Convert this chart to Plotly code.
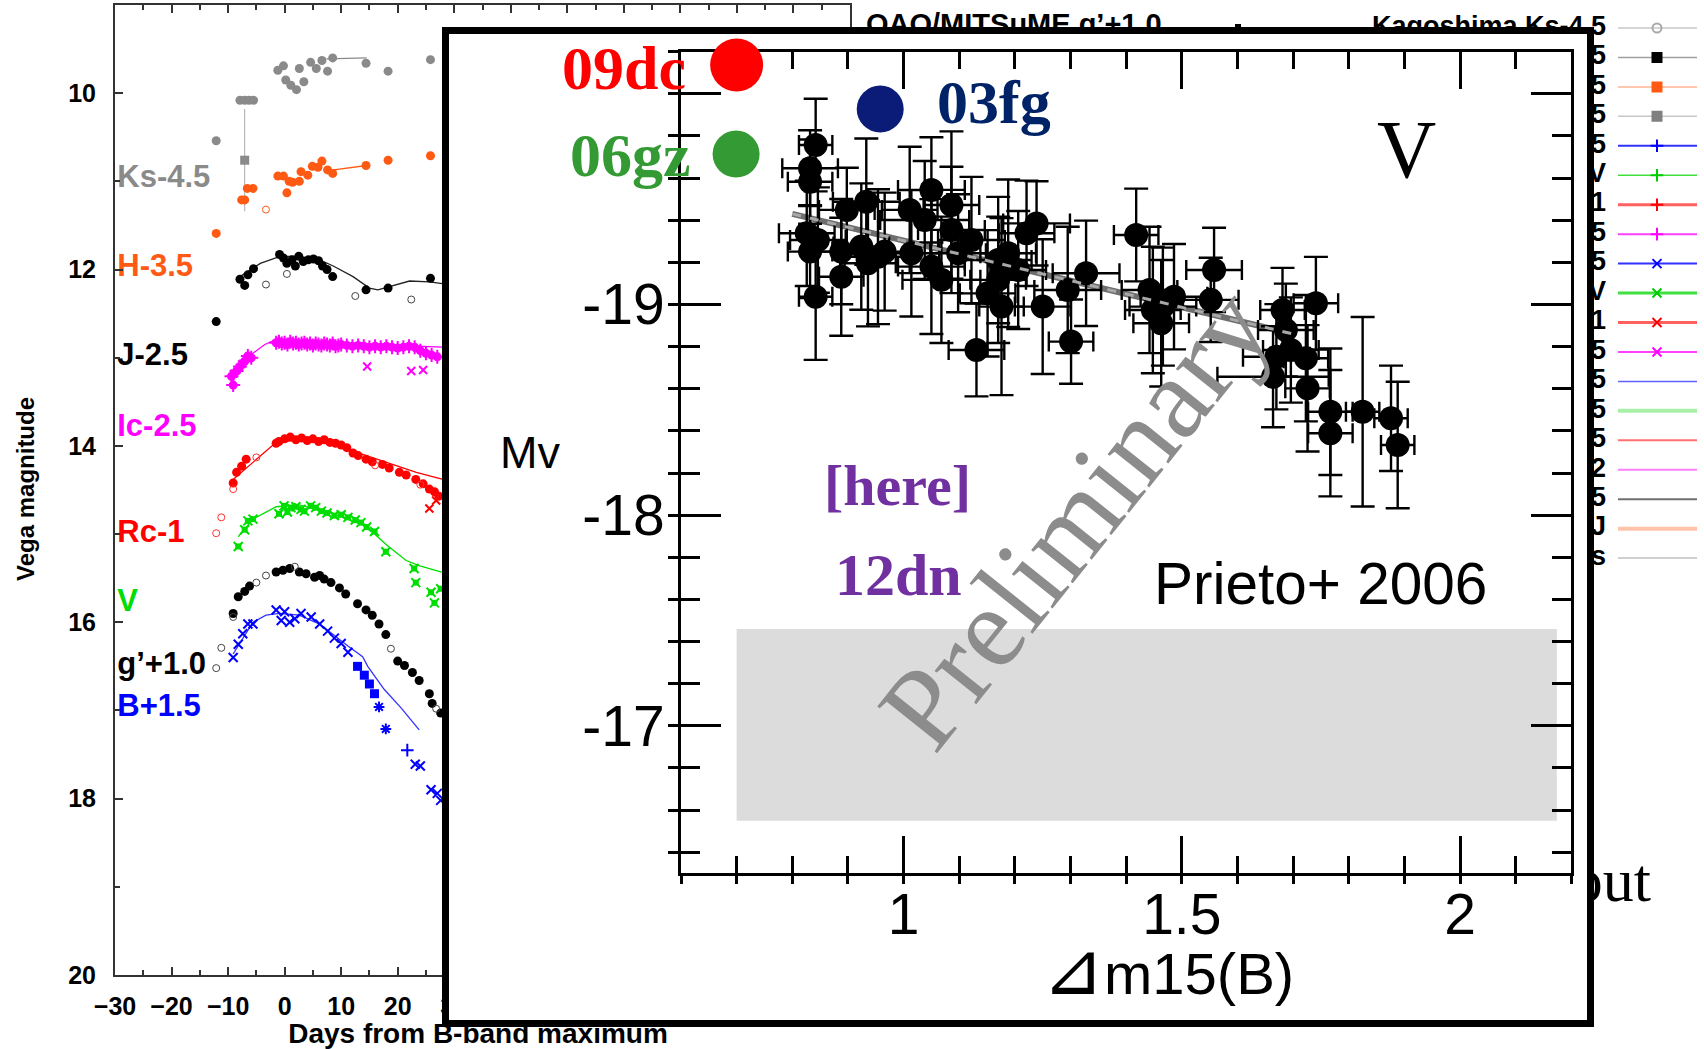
import plotly.graph_objects as go

W, H = 1704, 1049
SANS = "Liberation Sans"
SERIF = "Liberation Serif"

# ---------------- Background light curves (days from B max, Vega mag) ----------------
ks_day = [-12.1, -7.9, -7.06, -6.3, -5.5, -1.2, -0.2, 0.2, 1.1, 2.1, 3.4, 2.6, 4.6, 5.6, 6.6, 7.6, 8.5, 14.4, 18.3, 25.8]
ks_mag = [10.54, 10.08, 10.08, 10.08, 10.08, 9.74, 9.69, 9.85, 9.91, 9.96, 9.87, 9.72, 9.65, 9.72, 9.63, 9.75, 9.60, 9.66, 9.75, 9.62]
ks_sq_day = [-7.06]
ks_sq_mag = [10.76]
ks_line_day = [7.4, 14.5]
ks_line_mag = [9.61, 9.60]

h_day = [-12.1, -7.6, -7.06, -6.6, -5.6, -1.2, -0.2, 0.8, 0.4, 1.4, 2.6, 2.9, 4.1, 4.9, 5.9, 6.6, 7.6, 8.5, 14.4, 18.3, 25.8]
h_mag = [11.59, 11.21, 11.21, 11.08, 11.08, 10.94, 10.94, 11.0, 11.13, 11.01, 11.0, 10.89, 10.93, 10.83, 10.84, 10.77, 10.87, 10.91, 10.82, 10.76, 10.71]
h_open_day = [-3.3]
h_open_mag = [11.32]
h_line_day = [7.4, 14.5]
h_line_mag = [10.88, 10.82]

j_day = [-12.1, -7.9, -7.06, -6.5, -5.5, -0.9, -0.2, 0.4, 1.3, 1.9, 2.5, 3.3, 4.2, 5.1, 6.0, 6.7, 7.5, 8.5, 14.4, 18.3, 25.8]
j_mag = [12.59, 12.11, 12.18, 12.06, 11.99, 11.83, 11.87, 11.93, 11.89, 11.96, 11.85, 11.91, 11.89, 11.88, 11.90, 11.96, 12.0, 12.08, 12.23, 12.21, 12.10]
j_open_day = [-3.3, 0.4, 12.5, 22.4]
j_open_mag = [12.17, 12.05, 12.30, 12.34]
j_line_day = [-7.9, -4.3, -0.8, 2.7, 6.2, 8.6, 12.1, 15.0, 16.5, 19.7, 22.1, 25.6, 27.9]
j_line_mag = [12.08, 11.93, 11.85, 11.85, 11.89, 11.96, 12.08, 12.21, 12.23, 12.17, 12.13, 12.14, 12.16]

ic_day = [-9.1, -9.4, -8.5, -7.9, -7.06, -6.5, -5.9, -1.5, -1.0, -0.5, 0.0, 0.5, 1.0, 1.5, 2.0, 2.5,
          3.0, 3.5, 4.0, 4.5, 5.0, 5.5, 6.0, 6.5, 7.0, 7.5, 8.0, 8.5, 9.0, 9.5, 10.0, 11.0, 12.0, 13.0,
          14.0, 15.0, 16.0, 17.0, 18.0, 19.0, 20.0, 21.0, 22.0, 23.0, 24.0, 25.0, 26.0, 27.0]
ic_mag = [13.31, 13.21, 13.15, 13.10, 13.04, 12.98, 13.0, 12.83, 12.82, 12.84, 12.83, 12.85, 12.82, 12.84,
          12.83, 12.85, 12.84, 12.83, 12.85, 12.84, 12.86, 12.84, 12.85, 12.86, 12.84, 12.85, 12.86, 12.84,
          12.87, 12.86, 12.85, 12.86, 12.87, 12.86, 12.87, 12.88, 12.87, 12.88, 12.87, 12.88, 12.89, 12.88,
          12.87, 12.88, 12.92, 12.95, 12.97, 12.99]
ic_x_day = [14.6, 22.4, 24.5]
ic_x_mag = [13.10, 13.15, 13.14]
ic_line_day = [-9.4, -7.5, -5.6, -3.5, -1.8, 5.0, 15.0, 25.0, 28.0]
ic_line_mag = [13.22, 13.05, 12.95, 12.85, 12.80, 12.83, 12.85, 12.87, 12.88]

rc_day = [-9.1, -8.5, -7.6, -6.8, -1.5, -1.0, 0.0, 1.0, 2.0, 3.0, 4.0, 5.0, 6.0, 7.0, 8.0, 9.0, 10.0, 11.0,
          12.1, 13.0, 14.4, 15.5, 17.3, 18.5, 20.3, 21.5, 23.2, 24.5, 25.6, 26.5, 27.3]
rc_mag = [14.42, 14.30, 14.23, 14.15, 13.97, 13.95, 13.92, 13.90, 13.93, 13.91, 13.94, 13.92, 13.95, 13.93,
          13.96, 13.97, 13.99, 14.02, 14.08, 14.11, 14.15, 14.18, 14.21, 14.25, 14.30, 14.33, 14.38, 14.43,
          14.49, 14.52, 14.57]
rc_open_day = [-12.1, -11.2, -9.1, -5.0, 16.0, 24.0]
rc_open_mag = [14.99, 14.81, 14.49, 14.13, 14.22, 14.44]
rc_x_day = [25.6, 26.8]
rc_x_mag = [14.71, 14.62]
rc_line_day = [-9.1, -5.6, -1.5, 2.6, 8.6, 12.1, 17.4, 23.3, 28.0]
rc_line_mag = [14.38, 14.19, 13.96, 13.93, 13.96, 14.06, 14.17, 14.30, 14.38]

v_day = [-8.2, -7.06, -6.5, -5.6, -1.0, -0.1, 0.5, 1.1, 2.0, 2.9, 3.5, 4.6, 5.5, 6.5, 7.5, 8.8, 10.0,
         11.2, 12.5, 13.5, 14.5, 15.9, 17.9, 22.9, 23.2, 25.9, 26.5, 27.6]
v_mag = [15.14, 14.95, 14.85, 14.83, 14.77, 14.68, 14.75, 14.70, 14.69, 14.72, 14.74, 14.68, 14.70, 14.74,
         14.76, 14.79, 14.78, 14.81, 14.84, 14.87, 14.92, 14.97, 15.20, 15.39, 15.55, 15.66, 15.78, 15.62]
v_line_day = [-8.2, -5.6, -1.5, 2.6, 8.6, 14.4, 18.0, 21.5, 23.9, 27.8]
v_line_mag = [15.03, 14.83, 14.69, 14.67, 14.77, 14.91, 15.12, 15.30, 15.36, 15.43]

g_day = [-9.1, -8.2, -7.06, -6.2, -1.5, -0.3, 0.9, 2.6, 3.8, 5.3, 6.2, 7.0, 8.2, 9.7, 10.8, 12.9, 14.4,
         15.5, 16.7, 17.9, 20.0, 21.2, 22.6, 23.8, 25.6, 26.1, 27.6]
g_mag = [15.90, 15.71, 15.65, 15.59, 15.43, 15.41, 15.39, 15.43, 15.45, 15.49, 15.47, 15.51, 15.55, 15.61,
         15.68, 15.79, 15.86, 15.92, 16.02, 16.14, 16.44, 16.49, 16.57, 16.66, 16.81, 16.92, 17.03]
g_open_day = [-12.1, -11.2, -9.1, -5.0, -3.3, 1.8, 18.8, 26.8]
g_open_mag = [16.52, 16.29, 15.94, 15.55, 15.47, 15.37, 16.30, 16.98]

b_x_day = [-9.1, -8.2, -7.4, -6.5, -5.6, -1.5, -0.6, 0.0, 0.9, 1.8, 2.9, 4.7, 6.2, 7.6, 8.8, 10.0, 11.2,
           23.1, 24.0, 25.9, 27.0, 27.6]
b_x_mag = [16.40, 16.25, 16.13, 16.02, 16.02, 15.86, 15.98, 15.88, 16.00, 15.96, 15.90, 15.94, 16.02, 16.10,
           16.18, 16.24, 16.34, 17.61, 17.63, 17.90, 17.94, 18.02]
b_sq_day = [12.9, 14.1, 15.0, 15.9]
b_sq_mag = [16.50, 16.60, 16.70, 16.81]
b_ast_day = [16.7, 17.9]
b_ast_mag = [16.96, 17.21]
b_plus_day = [21.7]
b_plus_mag = [17.45]
b_line_day = [-9.1, -5.6, -3.3, -0.9, 2.6, 6.2, 11.2, 13.8, 14.7, 17.6, 20.6, 23.8]
b_line_mag = [16.36, 16.00, 15.92, 15.90, 15.92, 16.02, 16.27, 16.39, 16.50, 16.76, 16.97, 17.22]

band_labels = ["Ks-4.5", "H-3.5", "J-2.5", "Ic-2.5", "Rc-1", "V", "g\u2019+1.0", "B+1.5"]
band_colors = ["#8a8a8a", "#ff5a14", "#000000", "#ff00ff", "#ff0000", "#00dd00", "#000000", "#0000ff"]
band_label_mag = [10.98, 11.99, 12.99, 13.80, 15.00, 15.78, 16.50, 16.98]

lc_xticks = [-30, -20, -10, 0, 10, 20, 30, 40, 50, 60, 70, 80, 90, 100]
lc_yticks = [10, 12, 14, 16, 18, 20]

# right-hand legend column of the light-curve figure
leg_labels = ["Kagoshima Ks-4.5", "OAO J-2.5", "OAO H-3.5", "OAO Ks-4.5",
              "Kanata B+1.5", "Kanata V", "Kanata Rc-1", "Kanata Ic-2.5",
              "Nayuta B+1.5", "Nayuta V", "Nayuta Rc-1", "Nayuta Ic-2.5",
              "model B+1.5", "model g'+1.5", "model V+0.5", "model Rc-2", "model Ic-2.5",
              "model J", "models"]
leg_line_colors = ["#c8c8c8", "#a0a0a0", "#ffb494", "#c8c8c8", "#3030ff", "#40e040", "#ff6060", "#ff40ff",
                   "#3030ff", "#40e040", "#ff6060", "#ff40ff", "#6060ff", "#a8f0a8", "#ff7070", "#ff80ff",
                   "#707070", "#ffc4a8", "#c0c0c0"]
leg_line_widths = [1.5, 1.5, 1.5, 1.5, 2, 1.5, 3, 2, 2, 3, 3, 2, 1.5, 4, 2, 2, 2, 4, 1.5]
leg_symbols = ["circle-open", "square", "square", "square", "cross-thin", "cross-thin", "cross-thin",
               "cross-thin", "x-thin", "x-thin", "x-thin", "x-thin", None, None, None, None, None, None, None]
leg_marker_colors = ["#aaaaaa", "#000000", "#ff5a14", "#808080", "#0000ff", "#00cc00", "#ff0000", "#ff00ff",
                     "#0000ff", "#00cc00", "#ff0000", "#ff00ff", None, None, None, None, None, None, None]
top_left_legend = "OAO/MITSuME g\u2019+1.0"
x_title = "Days from B-band maximum"

# ---------------- Inset: Mv vs dm15(B)  (Prieto+ 2006) ----------------
dm15 = [0.842, 0.832, 0.832, 0.826, 0.832, 0.842, 0.898, 0.933, 0.888, 0.888, 0.924, 0.954, 0.936,
        1.011, 1.050, 1.086, 1.038, 1.014, 1.050, 1.068, 1.122, 1.098, 1.170, 1.188, 1.170, 1.176, 1.131,
        1.239, 1.221, 1.250, 1.301, 1.295, 1.328, 1.418, 1.442, 1.466, 1.463, 1.486, 1.558, 1.552, 1.681,
        1.687, 1.664, 1.696, 1.723, 1.741, 1.726, 1.767, 1.767, 1.825, 1.876, 1.888,
        0.846, 0.966, 1.086, 1.151, 1.206, 1.448, 1.670]
mv = [-19.757, -19.647, -19.583, -19.338, -19.251, -19.037, -19.449, -19.488, -19.251, -19.132, -19.275,
      -19.227, -19.196, -19.449, -19.544, -19.472, -19.401, -19.243, -19.180, -19.117, -19.306, -19.243,
      -19.211, -19.243, -19.117, -18.990, -18.784, -19.385, -19.338, -18.990, -18.824, -19.069, -19.148,
      -19.330, -19.069, -18.990, -18.911, -19.037, -19.164, -19.022, -18.974, -18.879, -18.657, -18.784,
      -18.745, -19.006, -18.602, -18.491, -18.389, -18.491, -18.460, -18.333,
      -19.306, -19.251, -19.354, -19.053, -19.164, -18.974, -18.752]
mv_err = [0.22, 0.18, 0.20, 0.25, 0.22, 0.30, 0.20, 0.30, 0.25, 0.28, 0.30, 0.32, 0.30, 0.30, 0.25, 0.35,
          0.28, 0.30, 0.32, 0.30, 0.30, 0.28, 0.30, 0.35, 0.30, 0.42, 0.22, 0.20, 0.25, 0.32, 0.20, 0.30,
          0.25, 0.22, 0.30, 0.28, 0.30, 0.25, 0.20, 0.20, 0.20, 0.22, 0.24, 0.25, 0.30, 0.22, 0.30, 0.30,
          0.30, 0.45, 0.25, 0.30, 0.25, 0.28, 0.30, 0.30, 0.28, 0.30, 0.25]
dm15_err = [0.03, 0.05, 0.04, 0.05, 0.04, 0.03, 0.05, 0.06, 0.05, 0.04, 0.05, 0.06, 0.05, 0.05, 0.06, 0.05,
            0.08, 0.05, 0.06, 0.07, 0.06, 0.05, 0.06, 0.05, 0.05, 0.04, 0.05, 0.06, 0.05, 0.05, 0.04, 0.06,
            0.06, 0.04, 0.05, 0.06, 0.05, 0.06, 0.05, 0.05, 0.04, 0.05, 0.10, 0.05, 0.04, 0.04, 0.04, 0.04,
            0.04, 0.03, 0.03, 0.03, 0.05, 0.05, 0.06, 0.05, 0.05, 0.05, 0.06]
fit_dm15 = [0.80, 1.70]
fit_mv = [-19.43, -18.86]

sn_names = ["09dc", "06gz", "03fg"]
sn_dm15 = [0.700, 0.699, 0.958]
sn_mv = [-20.137, -19.714, -19.928]
sn_colors = ["#ff0000", "#349a34", "#0a1c78"]
sn_text_colors = ["#ff0000", "#349a34", "#002266"]
sn_sizes = [53, 47, 47]

x_ticks = [1.0, 1.5, 2.0]
x_ticktext = ["1", "1.5", "2"]
y_ticks = [-20, -19, -18, -17]
y_ticktext = ["", "-19", "-18", "-17"]

fig = go.Figure()

# ---------- background light curves (subplot xy) ----------
def add_lc(x, y, **kw):
    fig.add_trace(go.Scatter(x=x, y=y, xaxis="x", yaxis="y", showlegend=False, hoverinfo="skip", **kw))

def line(c, w=1.3):
    return dict(color=c, width=w)

MS = 9
add_lc(ks_line_day, ks_line_mag, mode="lines", line=line("#8a8a8a"))
add_lc(ks_sq_day, ks_sq_mag, mode="markers", marker=dict(symbol="square", size=MS, color="#8a8a8a"),
       error_y=dict(type="data", array=[0.58], color="#aaaaaa", thickness=1, width=0))
add_lc(ks_day, ks_mag, mode="markers", marker=dict(size=MS, color="#8a8a8a"),
       error_y=dict(type="data", array=[0.03] * len(ks_day), color="#aaaaaa", thickness=1, width=0))
add_lc(h_line_day, h_line_mag, mode="lines", line=line("#ff5a14"))
add_lc(h_day, h_mag, mode="markers", marker=dict(size=MS, color="#ff5a14"))
add_lc(h_open_day, h_open_mag, mode="markers", marker=dict(size=7, symbol="circle-open", color="#ff5a14"))
add_lc(j_line_day, j_line_mag, mode="lines", line=line("#222222"))
add_lc(j_day, j_mag, mode="markers", marker=dict(size=MS, color="black"))
add_lc(j_open_day, j_open_mag, mode="markers", marker=dict(size=7, symbol="circle-open", color="#444444"))
add_lc(ic_line_day, ic_line_mag, mode="lines", line=line("#ff00ff"))
add_lc(ic_day, ic_mag, mode="markers", marker=dict(size=MS, color="#ff00ff"),
       error_y=dict(type="data", array=[0.03] * len(ic_day), color="#ff00ff", thickness=1, width=0))
add_lc(ic_day, ic_mag, mode="markers", marker=dict(size=10, symbol="cross-thin", color="#ff00ff",
                                                   line=dict(width=2, color="#ff00ff")))
add_lc(ic_x_day, ic_x_mag, mode="markers", marker=dict(size=8, symbol="x-thin", color="#ff00ff",
                                                       line=dict(width=2, color="#ff00ff")))
add_lc(rc_line_day, rc_line_mag, mode="lines", line=line("#ff0000"))
add_lc(rc_day, rc_mag, mode="markers", marker=dict(size=MS, color="#ff0000"))
add_lc(rc_open_day, rc_open_mag, mode="markers", marker=dict(size=7, symbol="circle-open", color="#ff3030"))
add_lc(rc_x_day, rc_x_mag, mode="markers", marker=dict(size=8, symbol="x-thin", color="#ff0000",
                                                       line=dict(width=2, color="#ff0000")))
add_lc(v_line_day, v_line_mag, mode="lines", line=line("#00dd00"))
add_lc(v_day, v_mag, mode="markers", marker=dict(size=9, symbol="x-thin", color="#00dd00",
                                                 line=dict(width=2, color="#00dd00")))
add_lc(v_day, v_mag, mode="markers", marker=dict(size=6, symbol="square", color="#00dd00"))
add_lc(g_day, g_mag, mode="markers", marker=dict(size=MS, color="black"))
add_lc(g_open_day, g_open_mag, mode="markers", marker=dict(size=7, symbol="circle-open", color="#444444"))
add_lc(b_line_day, b_line_mag, mode="lines", line=line("#3333ff"))
add_lc(b_x_day, b_x_mag, mode="markers", marker=dict(size=9, symbol="x-thin", color="#0000ff",
                                                     line=dict(width=2, color="#0000ff")))
add_lc(b_sq_day, b_sq_mag, mode="markers", marker=dict(size=MS, symbol="square", color="#0000ff"))
add_lc(b_ast_day, b_ast_mag, mode="markers", marker=dict(size=9, symbol="asterisk-open", color="#0000ff",
                                                         line=dict(width=2, color="#0000ff")))
add_lc(b_plus_day, b_plus_mag, mode="markers", marker=dict(size=9, symbol="cross-thin", color="#0000ff",
                                                           line=dict(width=2, color="#0000ff")))
# band labels
add_lc([-29.6] * len(band_labels), band_label_mag, mode="text", text=band_labels,
       textposition="middle right", cliponaxis=False,
       textfont=dict(family=SANS, size=31, color=band_colors, weight="bold"))

# ---------- legend layer (subplot x2y2, pixel coordinates; drawn under the inset frame) ----------
n_leg = len(leg_labels)
leg_y = [28 + 29.45 * i for i in range(n_leg)]
for i in range(n_leg):
    fig.add_trace(go.Scatter(x=[1618, 1697], y=[leg_y[i]] * 2, xaxis="x2", yaxis="y2", mode="lines",
                             line=dict(color=leg_line_colors[i], width=leg_line_widths[i]),
                             showlegend=False, hoverinfo="skip"))
    if leg_symbols[i]:
        fig.add_trace(go.Scatter(x=[1657], y=[leg_y[i]], xaxis="x2", yaxis="y2", mode="markers",
                                 marker=dict(symbol=leg_symbols[i], size=9, color=leg_marker_colors[i],
                                             line=dict(width=2, color=leg_marker_colors[i])),
                                 showlegend=False, hoverinfo="skip"))
fig.add_trace(go.Scatter(x=[1606] * n_leg, y=leg_y, xaxis="x2", yaxis="y2", mode="text", text=leg_labels,
                         textposition="middle left", showlegend=False, hoverinfo="skip",
                         textfont=dict(family=SANS, size=27, color="black", weight="bold")))
fig.add_trace(go.Scatter(x=[866], y=[27], xaxis="x2", yaxis="y2", mode="text", text=[top_left_legend],
                         textposition="middle right", showlegend=False, hoverinfo="skip",
                         textfont=dict(family=SANS, size=29, color="black", weight="bold")))
fig.add_trace(go.Scatter(x=[1238], y=[27], xaxis="x2", yaxis="y2", mode="markers",
                         marker=dict(symbol="square", size=6, color="black"), showlegend=False, hoverinfo="skip"))
fig.add_trace(go.Scatter(x=[478], y=[1036], xaxis="x2", yaxis="y2", mode="text", text=[x_title],
                         textposition="middle center", showlegend=False, hoverinfo="skip",
                         textfont=dict(family=SANS, size=28, color="black", weight="bold")))
fig.add_trace(go.Scatter(x=[1651], y=[885], xaxis="x2", yaxis="y2", mode="text", text=["out"],
                         textposition="middle left", showlegend=False, hoverinfo="skip",
                         textfont=dict(family=SERIF, size=62, color="black")))

# ---------- mask layer: inset frame (subplot x3y3) ----------
fig.add_trace(go.Scatter(x=[0], y=[0], xaxis="x3", yaxis="y3", mode="markers",
                         marker=dict(opacity=0), showlegend=False, hoverinfo="skip"))

# ---------- inset scatter (subplot x4y4) ----------
fig.add_trace(go.Scatter(x=fit_dm15, y=fit_mv, xaxis="x4", yaxis="y4", mode="lines",
                         line=dict(color="#6e6e6e", width=6), showlegend=False, hoverinfo="skip"))
fig.add_trace(go.Scatter(x=dm15, y=mv, xaxis="x4", yaxis="y4", mode="markers",
                         marker=dict(size=24, color="black", opacity=1),
                         error_y=dict(type="data", array=mv_err, color="black", thickness=2.4, width=12),
                         error_x=dict(type="data", array=dm15_err, color="black", thickness=2.4, width=10),
                         showlegend=False, hoverinfo="skip"))
fig.add_trace(go.Scatter(x=fit_dm15, y=fit_mv, xaxis="x4", yaxis="y4", mode="lines",
                         line=dict(color="#a8a8a8", width=3, dash="dash"), showlegend=False, hoverinfo="skip"))
fig.add_trace(go.Scatter(x=sn_dm15, y=sn_mv, xaxis="x4", yaxis="y4", mode="markers", cliponaxis=False,
                         marker=dict(size=sn_sizes, color=sn_colors, opacity=1, line=dict(width=0)),
                         showlegend=False, hoverinfo="skip"))
# outside tick stubs (overlay axes)
fig.add_trace(go.Scatter(x=[1.0], y=[-18.0], xaxis="x5", yaxis="y5", mode="markers",
                         marker=dict(opacity=0), showlegend=False, hoverinfo="skip"))

pix_axis = dict(domain=[0, 1], visible=False, fixedrange=True, automargin=False)

fig.update_layout(
    template="none",
    width=W, height=H, margin=dict(l=0, r=0, t=0, b=0, pad=0, autoexpand=False),
    paper_bgcolor="white", plot_bgcolor="rgba(0,0,0,0)", showlegend=False,
    xaxis=dict(domain=[115 / W, 850 / W], range=[-30, 100], anchor="y", automargin=False,
               tickmode="array", tickvals=lc_xticks, ticks="inside", ticklen=8, tickwidth=2,
               tickcolor="#333", minor=dict(ticks="inside", ticklen=5, dtick=5, tickwidth=1.5, tickcolor="#333"),
               showline=True, linewidth=2, linecolor="#333", mirror="ticks", showgrid=False, zeroline=False,
               tickfont=dict(family=SANS, size=25, color="black", weight="bold"), ticklabelstandoff=8),
    yaxis=dict(domain=[1 - 975 / H, 1 - 5 / H], range=[20, 9], anchor="x", automargin=False,
               tickmode="array", tickvals=lc_yticks, ticks="inside", ticklen=8, tickwidth=2,
               tickcolor="#333", minor=dict(ticks="inside", ticklen=5, dtick=1, tickwidth=1.5, tickcolor="#333"),
               showline=True, linewidth=2, linecolor="#333", mirror="ticks", showgrid=False, zeroline=False,
               tickfont=dict(family=SANS, size=25, color="black", weight="bold"), ticklabelstandoff=12),
    xaxis2=dict(range=[0, W], anchor="y2", **pix_axis),
    yaxis2=dict(range=[H, 0], anchor="x2", **pix_axis),
    xaxis3=dict(range=[0, W], anchor="y3", **pix_axis),
    yaxis3=dict(range=[H, 0], anchor="x3", **pix_axis),
    xaxis4=dict(domain=[681 / W, 1571.3 / W], range=[0.6, 2.2], anchor="y4", automargin=False,
                tickmode="array", tickvals=x_ticks, ticktext=x_ticktext,
                ticks="inside", ticklen=37, tickwidth=3, tickcolor="black",
                minor=dict(ticks="inside", ticklen=17, dtick=0.1, tick0=0.6, tickwidth=3, tickcolor="black"),
                showline=True, linewidth=3, linecolor="black", mirror="ticks", showgrid=False, zeroline=False,
                layer="below traces",
                tickfont=dict(family=SANS, size=57, color="black"), ticklabelstandoff=-11),
    yaxis4=dict(domain=[1 - 873.3 / H, 1 - 51.7 / H], range=[-16.3, -20.2], anchor="x4", automargin=False,
                tickmode="array", tickvals=y_ticks, ticktext=y_ticktext,
                ticks="inside", ticklen=40, tickwidth=3, tickcolor="black",
                minor=dict(ticks="inside", ticklen=19, dtick=0.2, tick0=-20.2, tickwidth=3, tickcolor="black"),
                showline=True, linewidth=3, linecolor="black", mirror="ticks", showgrid=False, zeroline=False,
                layer="below traces",
                tickfont=dict(family=SANS, size=57, color="black"), ticklabelstandoff=2),
    xaxis5=dict(overlaying="x4", anchor="y4", side="bottom", range=[0.6, 2.2], automargin=False,
                tickmode="array", tickvals=x_ticks, showticklabels=False,
                ticks="outside", ticklen=10, tickwidth=3, tickcolor="black",
                minor=dict(ticks="outside", ticklen=10, dtick=0.1, tick0=0.6, tickwidth=3, tickcolor="black"),
                showline=False, showgrid=False, zeroline=False),
    yaxis5=dict(overlaying="y4", anchor="x4", side="left", range=[-16.3, -20.2], automargin=False,
                tickmode="array", tickvals=y_ticks, showticklabels=False,
                ticks="outside", ticklen=12, tickwidth=3, tickcolor="black",
                minor=dict(ticks="outside", ticklen=12, dtick=0.2, tick0=-20.2, tickwidth=3, tickcolor="black"),
                showline=False, showgrid=False, zeroline=False),
    shapes=[
        dict(type="rect", xref="x3", yref="y3", x0=442, x1=1594, y0=27, y1=1027,
             fillcolor="black", line=dict(width=0), layer="below"),
        dict(type="rect", xref="x3", yref="y3", x0=449, x1=1587, y0=34, y1=1020,
             fillcolor="white", line=dict(width=0), layer="below"),
        dict(type="rect", xref="x4", yref="y4", x0=0.70, x1=2.174, y0=-17.46, y1=-16.55,
             fillcolor="#dcdcdc", line=dict(width=0), layer="below"),
    ],
)

def ann(text, x, y, size, color="black", family=SANS, bold=False, angle=0, xanchor="center"):
    fig.add_annotation(text=text, x=x / W, y=1 - y / H, xref="paper", yref="paper", showarrow=False,
                       xanchor=xanchor, yanchor="middle", textangle=angle,
                       font=dict(family=family, size=size, color=color, weight="bold" if bold else "normal"))

ann("Vega magnitude", 25, 489, 24, bold=True, angle=-90)
for name, cx, cy, col in zip(sn_names, [624, 630, 994], [68, 155, 102], sn_text_colors):
    ann(name, cx, cy, 62, color=col, family=SERIF, bold=True)
ann("[here]", 897, 485, 58, color="#7030a0", family=SERIF, bold=True)
ann("12dn", 898, 575, 60, color="#7030a0", family=SERIF, bold=True)
ann("V", 1406, 150, 82, family=SERIF)
ann("Mv", 530, 452, 45)
ann("Prieto+ 2006", 1320, 583, 58.5)
ann("<span style='font-size:74px'>\u22bf</span>m15(B)", 1168, 968, 58)
ann("Preliminary", 1075, 518, 116, color="#8c8c8c", family=SERIF, angle=-51.4)

fig.write_html("out.html", config={"displayModeBar": False},
               post_script="document.body.style.margin='0';document.body.style.overflow='hidden';")
